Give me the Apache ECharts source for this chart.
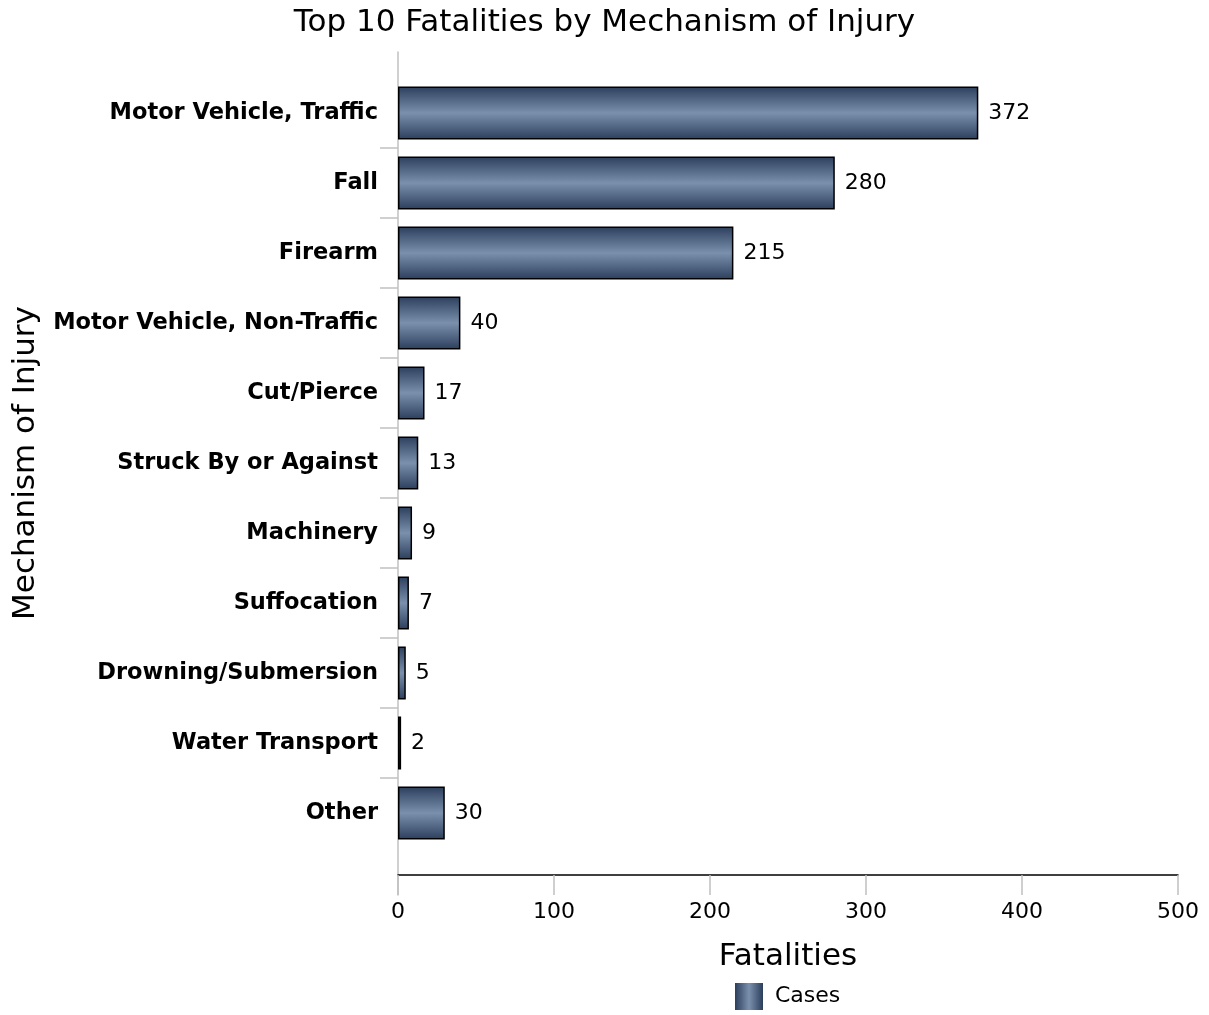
<!DOCTYPE html>
<html>
<head>
<meta charset="utf-8">
<script src="https://cdn.jsdelivr.net/npm/echarts@6/dist/echarts.min.js"></script>
<style>html,body{margin:0;padding:0;background:#fff;}#chart{width:1209px;height:1015px;}</style>
</head>
<body>
<div id="chart"></div>
<script>
const categories = ["Motor Vehicle, Traffic","Fall","Firearm","Motor Vehicle, Non-Traffic","Cut/Pierce","Struck By or Against","Machinery","Suffocation","Drowning/Submersion","Water Transport","Other"];
const cases = [372, 280, 215, 40, 17, 13, 9, 7, 5, 2, 30];
const xTicks = { min: 0, max: 500, interval: 100 };

const FONT = '"DejaVu Sans", Verdana, sans-serif';
const barGrad = new echarts.graphic.LinearGradient(0, 0, 0, 1, [
  {offset: 0, color: '#2b3f5c'}, {offset: 0.5, color: '#7b90ad'}, {offset: 1, color: '#2b3f5c'}
]);
const legendGrad = new echarts.graphic.LinearGradient(0, 0, 1, 0, [
  {offset: 0, color: '#2b3f5c'}, {offset: 0.5, color: '#7b90ad'}, {offset: 1, color: '#2b3f5c'}
]);

const chart = echarts.init(document.getElementById('chart'), null, {renderer: 'canvas'});
chart.setOption({
  animation: false,
  backgroundColor: '#fff',
  title: {
    text: 'Top 10 Fatalities by Mechanism of Injury',
    left: 'center', top: 2,
    textStyle: {fontFamily: FONT, fontSize: 31, fontWeight: 'normal', color: '#000'}
  },
  legend: {
    left: 735, top: 983, padding: 0,
    itemWidth: 28, itemHeight: 27,
    textStyle: {fontFamily: FONT, fontSize: 22, color: '#000', padding: [2, 0, 0, 7]},
    data: [{name: 'Cases', icon: 'rect', itemStyle: {color: legendGrad, borderWidth: 0}}]
  },
  grid: [
    {left: 398, width: 780, top: 78, height: 770, containLabel: false, outerBoundsMode: 'none'},
    {left: 398, width: 780, top: 52, height: 843, containLabel: false, outerBoundsMode: 'none'},
    {left: 380, width: 18, top: 78, height: 770, containLabel: false, outerBoundsMode: 'none'}
  ],
  xAxis: [
    {
      gridIndex: 0, type: 'value', min: xTicks.min, max: xTicks.max, interval: xTicks.interval,
      offset: 27,
      name: 'Fatalities', nameLocation: 'middle', nameGap: 66,
      nameTextStyle: {fontFamily: FONT, fontSize: 31, color: '#000'},
      axisLine: {show: true, lineStyle: {color: '#000', width: 1.5}},
      axisTick: {show: true, length: 20, lineStyle: {color: '#c0c0c0', width: 1.5}},
      axisLabel: {fontFamily: FONT, fontSize: 22, color: '#000', margin: 26},
      splitLine: {show: false}
    },
    {gridIndex: 1, type: 'value', show: false},
    {gridIndex: 2, type: 'value', show: false}
  ],
  yAxis: [
    {
      gridIndex: 0, type: 'category', data: categories, inverse: true,
      name: 'Mechanism of Injury', nameLocation: 'middle', nameGap: 357, nameRotate: 90,
      nameTextStyle: {fontFamily: FONT, fontSize: 31, color: '#000'},
      axisLine: {show: false},
      axisTick: {show: false},
      axisLabel: {fontFamily: FONT, fontSize: 22.5, fontWeight: 'bold', color: '#000', margin: 20, padding: [4, 0, 0, 0]},
      splitLine: {show: false}
    },
    {
      gridIndex: 1, type: 'value', min: 0, max: 1,
      axisLine: {show: true, lineStyle: {color: '#c0c0c0', width: 1.5}},
      axisTick: {show: false}, axisLabel: {show: false}, splitLine: {show: false}
    },
    {
      gridIndex: 2, type: 'category', data: categories, inverse: true,
      axisLine: {show: false}, axisTick: {show: false}, axisLabel: {show: false},
      splitLine: {show: true, showMinLine: false, showMaxLine: false, lineStyle: {color: '#c0c0c0', width: 1.5}}
    }
  ],
  series: [{
    name: 'Cases', type: 'bar', xAxisIndex: 0, yAxisIndex: 0,
    data: cases, barWidth: '76%',
    itemStyle: {color: barGrad, borderColor: '#000', borderWidth: 1.5},
    label: {show: true, position: 'right', distance: 10, fontFamily: FONT, fontSize: 22, color: '#000', padding: [4, 0, 0, 0]}
  }]
});
</script>
</body>
</html>
